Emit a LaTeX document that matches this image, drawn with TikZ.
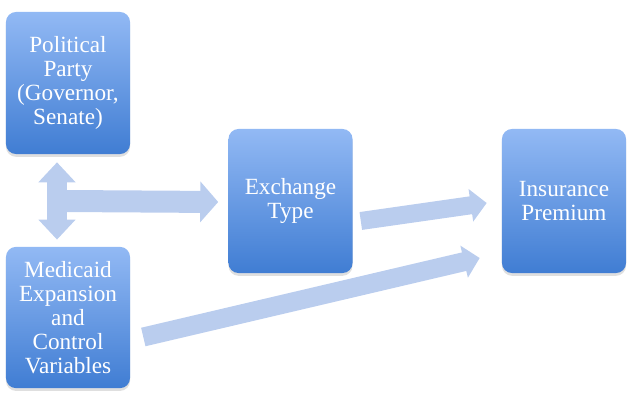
\documentclass[tikz,border=0pt]{standalone}
\usepackage{fontspec}
\setmainfont{Liberation Serif}
\usetikzlibrary{arrows.meta,calc,shadows}
\definecolor{boxtop}{RGB}{146,185,244}
\definecolor{boxbot}{RGB}{64,125,211}
\definecolor{arrowblue}{RGB}{186,205,238}

\begin{document}
\begin{tikzpicture}[x=0.025cm, y=-0.025cm,
        factor/.style={rounded corners=0.25cm, top color=boxtop, bottom color=boxbot,
          text=white, align=center, minimum width=3.1cm,
          font=\fontsize{16.5}{17.2}\selectfont,
          drop shadow={opacity=0.25, shadow xshift=0pt, shadow yshift=-2pt}},
        link/.style={draw=arrowblue, line width=0.45cm, -{Triangle[length=0.4cm, width=0.8cm]}}
      ]
      \useasboundingbox (0,0) rectangle (633,402);

      \node[factor, minimum height=3.55cm] (party) at (68,83) {Political\\Party\\(Governor,\\Senate)};
      \node[factor, minimum height=3.53cm] (medicaid) at (68,317.5) {Medicaid\\Expansion\\and\\Control\\Variables};
      \node[factor, minimum height=3.6cm] (exchange) at (290.5,201) {Exchange\\Type};
      \node[factor, minimum height=3.6cm] (premium) at (564,201) {Insurance\\Premium};

      % party <-> medicaid, branching to exchange
      \draw[link, line width=0.475cm, {Triangle[length=0.5cm, width=0.9cm]}-{Triangle[length=0.5cm, width=0.9cm]}]
        ($(party.south)+(-11,8)$) coordinate (up) -- ($(medicaid.north)+(-11,-7)$) coordinate (down);
      \coordinate (fork) at ($(up)!0.5!(down)$);
      \draw[link, line width=0.55cm, -{Triangle[length=0.45cm, width=1cm]}] (fork) -- ($(exchange.west)+(-10,1)$);

      \draw[link] ($(exchange.east)+(8,20)$) -- ($(premium.west)+(-15,2)$);
      \draw[link, line width=0.475cm] ($(medicaid.east)+(13,19.5)$) -- ($(premium.west)+(-22,57)$);
    \end{tikzpicture}
\end{document}
